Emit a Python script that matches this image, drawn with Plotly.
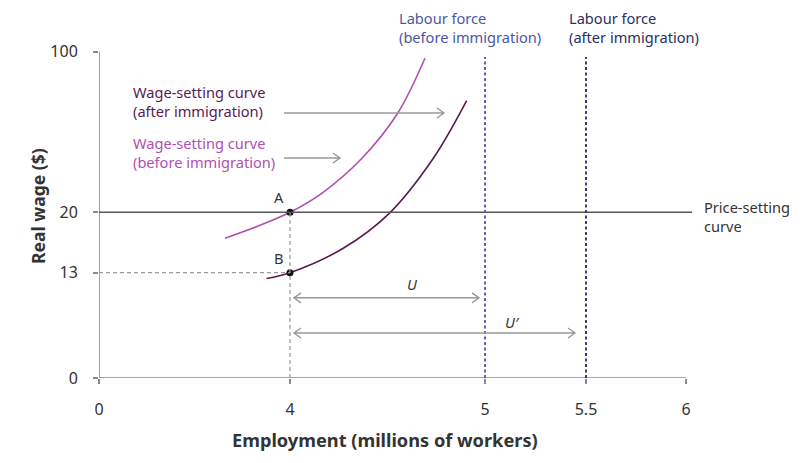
import numpy as np
import plotly.graph_objects as go

# ---------------- data (real units) ----------------
x_ticks = [0, 4, 5, 5.5, 6]
x_tick_text = ["0", "4", "5", "5.5", "6"]
y_ticks = [0, 13, 20, 100]
y_tick_text = ["0", "13", "20", "100"]

ws_before_emp = [2.639, 3.309, 4.00, 4.163, 4.369, 4.552, 4.692]
ws_before_wage = [16.99, 18.35, 20.0, 29.46, 46.90, 69.32, 96.71]
ws_after_emp = [3.508, 4.00, 4.273, 4.509, 4.735, 4.906]
ws_after_wage = [12.28, 13.0, 15.83, 19.88, 46.90, 75.59]

price_setting_wage = 20
point_names = ["A", "B"]
point_emp = [4, 4]
point_wage = [20, 13]
labour_before = 5
labour_after = 5.5
U_wage = 9.9
Uprime_wage = 5.55

# ---------------- axis transform (broken axes) ----------------
X_BREAK_VAL = [0, 4, 5, 5.5, 6]
X_BREAK_POS = [0, 191, 386, 487, 587]
Y_BREAK_VAL = [0, 13, 20, 100]
Y_BREAK_POS = [0, 105.3, 165.7, 326.3]


def tx(v):
    return np.interp(np.asarray(v, dtype=float), X_BREAK_VAL, X_BREAK_POS)


def ty(v):
    return np.interp(np.asarray(v, dtype=float), Y_BREAK_VAL, Y_BREAK_POS)


W, H = 810, 463
ML, MR, MT, MB = 99, 0, 0, 85
PW, PH = W - ML - MR, H - MT - MB

FONT = "Noto Sans"
GREY = "#9a9a9a"
AXIS = "#8a8a8a"
PINK = "#b04fb0"
DARK = "#5a1a50"
BLUE = "#4b57a6"
NAVY = "#2b2f5e"
TEXT = "#333333"


def py(pix):  # pixel y -> internal
    return H - MB - pix


fig = go.Figure()

# Wage-setting curves
fig.add_trace(go.Scatter(x=tx(ws_before_emp), y=ty(ws_before_wage), mode="lines",
                         line=dict(color=PINK, width=1.6, shape="spline", smoothing=1.0),
                         hoverinfo="skip"))
fig.add_trace(go.Scatter(x=tx(ws_after_emp), y=ty(ws_after_wage), mode="lines",
                         line=dict(color=DARK, width=1.6, shape="spline", smoothing=1.0),
                         hoverinfo="skip"))

shapes = []
# axis lines
shapes.append(dict(type="line", xref="x", yref="y", x0=0, x1=float(tx(6)), y0=0, y1=0,
                   line=dict(color=AXIS, width=1.6)))
shapes.append(dict(type="line", xref="x", yref="y", x0=0, x1=0, y0=0, y1=float(ty(100)),
                   line=dict(color=AXIS, width=1.6)))
# price-setting curve
shapes.append(dict(type="line", xref="x", yref="y", x0=0, x1=593, y0=float(ty(price_setting_wage)),
                   y1=float(ty(price_setting_wage)), line=dict(color="#555555", width=1.5)))
# dashed guides
shapes.append(dict(type="line", xref="x", yref="y", x0=float(tx(4)), x1=float(tx(4)), y0=0,
                   y1=float(ty(20)), line=dict(color=GREY, width=1.2, dash="4px,3px")))
shapes.append(dict(type="line", xref="x", yref="y", x0=0, x1=float(tx(4)), y0=float(ty(13)),
                   y1=float(ty(13)), line=dict(color=GREY, width=1.2, dash="4px,3px")))
# labour force lines
top_dash = py(57)
shapes.append(dict(type="line", xref="x", yref="y", x0=float(tx(labour_before)), x1=float(tx(labour_before)),
                   y0=0, y1=top_dash, line=dict(color=BLUE, width=1.8, dash="3px,2.5px")))
shapes.append(dict(type="line", xref="x", yref="y", x0=float(tx(labour_after)), x1=float(tx(labour_after)),
                   y0=0, y1=top_dash, line=dict(color=NAVY, width=1.8, dash="3px,2.5px")))


def chevron(xtip, ytip, direction):
    L, Hh = 7, 5
    bx = xtip - direction * L
    return f"M {bx},{ytip + Hh} L {xtip},{ytip} L {bx},{ytip - Hh}"


def arrow(x0, x1, yv, double=False):
    path = f"M {x0},{yv} L {x1},{yv} " + chevron(x1, yv, 1)
    if double:
        path += " " + chevron(x0, yv, -1)
    shapes.append(dict(type="path", xref="x", yref="y", path=path,
                       line=dict(color=GREY, width=1.4)))


# U and U' arrows
arrow(float(tx(4)) + 4, float(tx(labour_before)) - 6, float(ty(U_wage)), double=True)
arrow(float(tx(4)) + 4, float(tx(labour_after)) - 11, float(ty(Uprime_wage)), double=True)
# label arrows
arrow(284 - ML, 444 - ML, py(113))
arrow(284 - ML, 340 - ML, py(158))

# points A, B
fig.add_trace(go.Scatter(x=tx(point_emp), y=ty(point_wage), mode="markers",
                         marker=dict(color="#111111", size=7), hoverinfo="skip"))

ann = []
TS = 14.6


def text(xp, yp, s, color=TEXT, size=TS, xanchor="left", yanchor="middle", **kw):
    ann.append(dict(x=xp - ML, y=py(yp), xref="x", yref="y", text=s, showarrow=False,
                    font=dict(family=FONT, size=size, color=color), xanchor=xanchor,
                    yanchor=yanchor, align="left", **kw))


text(131, 101, "Wage-setting curve<br>(after immigration)", color=DARK)
text(131, 152, "Wage-setting curve<br>(before immigration)", color=PINK)
text(397, 27, "Labour force<br>(before immigration)", color=BLUE)
text(567, 27, "Labour force<br>(after immigration)", color=NAVY)
text(702, 216, "Price-setting<br>curve", color=TEXT)
for nm, e, w in zip(point_names, point_emp, point_wage):
    ann.append(dict(x=float(tx(e)) - 11, y=float(ty(w)) + 15, xref="x", yref="y", text=nm,
                    showarrow=False, font=dict(family=FONT, size=TS, color=TEXT)))
ann.append(dict(x=(float(tx(4)) + float(tx(labour_before))) / 2 + 25, y=float(ty(U_wage)) + 14,
                xref="x", yref="y", text="<i>U</i>", showarrow=False,
                font=dict(family=FONT, size=TS, color=TEXT)))
ann.append(dict(x=(float(tx(4)) + float(tx(labour_after))) / 2 + 74, y=float(ty(Uprime_wage)) + 11,
                xref="x", yref="y", text="<i>U\u2032</i>", showarrow=False,
                font=dict(family=FONT, size=TS, color=TEXT)))
# axis titles
ann.append(dict(x=(38 - ML) / PW, y=(H - MB - 206) / PH, xref="paper", yref="paper",
                text="<b>Real wage ($)</b>", showarrow=False, textangle=-90,
                xanchor="center", yanchor="middle",
                font=dict(family=FONT, size=17.5, color=TEXT)))
ann.append(dict(x=(385 - ML) / PW, y=(H - MB - 440) / PH, xref="paper", yref="paper",
                text="<b>Employment (millions of workers)</b>", showarrow=False,
                xanchor="center", yanchor="middle",
                font=dict(family=FONT, size=18.2, color=TEXT)))

fig.update_layout(
    width=W, height=H, margin=dict(l=ML, r=MR, t=MT, b=MB),
    paper_bgcolor="white", plot_bgcolor="white", showlegend=False,
    shapes=shapes, annotations=ann,
    xaxis=dict(range=[0, PW], tickvals=tx(x_ticks).tolist(), ticktext=x_tick_text,
               showgrid=False, zeroline=False, showline=False, ticks="outside", ticklen=5,
               tickcolor=AXIS, tickwidth=1.5, ticklabelstandoff=12,
               tickfont=dict(family=FONT, size=16, color=TEXT), fixedrange=True),
    yaxis=dict(range=[0, PH], tickvals=ty(y_ticks).tolist(), ticktext=y_tick_text,
               showgrid=False, zeroline=False, showline=False, ticks="outside", ticklen=5,
               tickcolor=AXIS, tickwidth=1.5, ticklabelstandoff=12,
               tickfont=dict(family=FONT, size=16, color=TEXT), fixedrange=True),
)

fig.write_html("out.html", config={"displayModeBar": False},
               post_script="document.body.style.margin='0px';document.body.style.overflow='hidden';")
